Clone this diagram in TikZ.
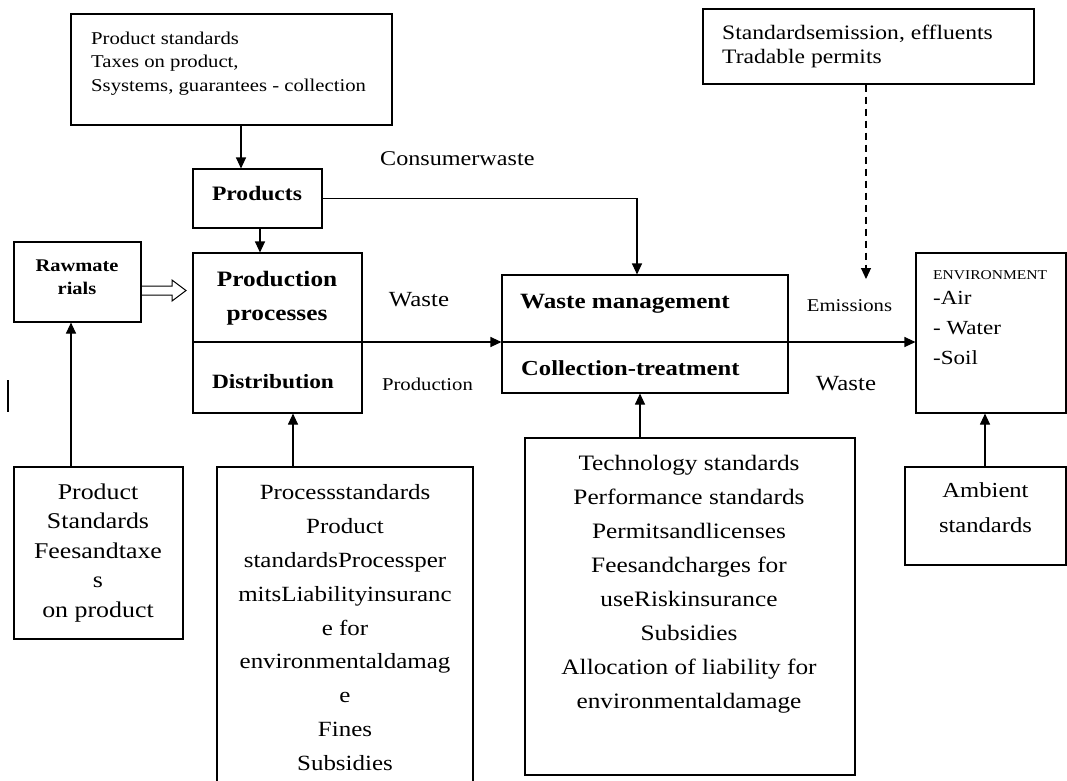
\documentclass[tikz,border=0pt]{standalone}
\usepackage{fontspec}
\setmainfont{Liberation Serif}[FakeStretch=1.15]
\usetikzlibrary{arrows.meta}
\begin{document}
\begin{tikzpicture}[x=1pt,y=-1pt,
  box/.style={draw=black, line width=1.1pt, inner sep=0pt},
  txt/.style={inner sep=0pt, align=center, text=black},
  arr/.style={line width=1.1pt, -{Triangle[length=11pt,width=10pt]}},
  conn/.style={line width=1.1pt},
]
\useasboundingbox (0,0) rectangle (1067,780);

% boxes
\node[box, minimum width=321pt, minimum height=111pt] (ptop) at (231.5,69.5) {};
\node[txt, anchor=north west, align=left, font=\fontsize{18}{23.5}\selectfont] (ptopt) at (91,31.6) {Product standards\\Taxes on product,\\Ssystems, guarantees - collection};

\node[box, minimum width=129pt, minimum height=59pt] (products) at (257.5,198.5) {};
\node[txt, anchor=base, font=\bfseries\fontsize{20.5}{24}\selectfont] (productst) at (257,200) {Products};

\node[box, minimum width=169pt, minimum height=160pt] (prod) at (277.5,333) {};
\node[txt, anchor=north, font=\bfseries\fontsize{22}{34}\selectfont] (prodt) at (277,271) {Production\\processes};
\node[txt, anchor=base, font=\bfseries\fontsize{20.3}{24}\selectfont] (distt) at (273,388) {Distribution};
\draw[conn] (prod.west |- 0,342) -- (prod.east |- 0,342);

\node[box, minimum width=127pt, minimum height=80pt] (raw) at (77.5,282) {};
\node[txt, anchor=north, font=\bfseries\fontsize{17.8}{23}\selectfont] (rawt) at (77,260) {Rawmate\\rials};

\node[box, minimum width=286pt, minimum height=118pt] (wm) at (645,334) {};
\node[txt, anchor=base west, font=\bfseries\fontsize{21.8}{26}\selectfont] (wmt1) at (520,308) {Waste management};
\node[txt, anchor=base west, font=\bfseries\fontsize{21.4}{26}\selectfont] (wmt2) at (521,375) {Collection-treatment};
\draw[conn] (wm.west |- 0,342) -- (wm.east |- 0,342);

\node[box, minimum width=331pt, minimum height=75pt] (stdtop) at (868.5,46.5) {};
\node[txt, anchor=north west, align=left, font=\fontsize{20.5}{24}\selectfont] (stdtopt) at (722,25) {Standardsemission, effluents\\Tradable permits};

\node[box, minimum width=150pt, minimum height=160pt] (env) at (991,333) {};
\node[txt, anchor=base west, font=\fontsize{13.5}{16}\selectfont] (envt) at (933,279) {ENVIRONMENT};
\node[txt, anchor=north west, align=left, font=\fontsize{20}{30}\selectfont] (envl) at (933,291.3) {-Air\\- Water\\-Soil};

\node[box, minimum width=161pt, minimum height=98pt] (amb) at (985.5,516) {};
\node[txt, anchor=north, font=\fontsize{21.4}{35}\selectfont] (ambt) at (985.5,482.4) {Ambient\\standards};

\node[box, minimum width=169pt, minimum height=172pt] (lb) at (98.5,553) {};
\node[txt, anchor=north, font=\fontsize{22.5}{29.5}\selectfont] (lbt) at (98,483.6) {Product\\Standards\\Feesandtaxe\\s\\on product};

\node[box, minimum width=256pt, minimum height=330pt] (mb) at (345,632) {};
\node[txt, anchor=north, font=\fontsize{21.7}{33.9}\selectfont] (mbt) at (345,484.2) {Processstandards\\Product\\standardsProcessper\\mitsLiabilityinsuranc\\e for\\environmentaldamag\\e\\Fines\\Subsidies};

\node[box, minimum width=330pt, minimum height=337pt] (rb) at (690,606.5) {};
\node[txt, anchor=north, font=\fontsize{22}{34}\selectfont] (rbt) at (689,455) {Technology standards\\Performance standards\\Permitsandlicenses\\Feesandcharges for\\useRiskinsurance\\Subsidies\\Allocation of liability for\\environmentaldamage};

% labels
\node[txt, anchor=base west, font=\fontsize{21}{24}\selectfont] (cw) at (380,165) {Consumerwaste};
\node[txt, anchor=base, font=\fontsize{21.6}{24}\selectfont] (wl) at (419,306) {Waste};
\node[txt, anchor=base, font=\fontsize{18}{24}\selectfont] (pl) at (427.5,390) {Production};
\node[txt, anchor=base, font=\fontsize{18}{24}\selectfont] (el) at (849.5,311) {Emissions};
\node[txt, anchor=base, font=\fontsize{21.6}{24}\selectfont] (wl2) at (846,390) {Waste};

% connectors
\draw[arr] (241,0 |- ptop.south) -- (241,0 |- products.north);
\draw[arr] (260,0 |- products.south) -- (260,0 |- prod.north);
\draw[arr] (products.east) -- (637,0 |- products.east) -- (637,0 |- wm.north);
\draw[arr] (prod.east |- 0,342) -- (wm.west |- 0,342);
\draw[arr] (wm.east |- 0,342) -- (env.west |- 0,342);
\coordinate (emtip) at (866,279);
\draw[arr, dash pattern=on 7pt off 5pt] (866,0 |- stdtop.south) -- (emtip);
\draw[arr] (71,0 |- lb.north) -- (71,0 |- raw.south);
\draw[arr] (293,0 |- mb.north) -- (293,0 |- prod.south);
\draw[arr] (640,0 |- rb.north) -- (640,0 |- wm.south);
\draw[arr] (985,0 |- amb.north) -- (985,0 |- env.south);
\draw[line width=1pt, line join=miter] (raw.east |- 0,286) -- (172,286) -- (172,280) -- (186,290.5) -- (172,301) -- (172,295) -- (raw.east |- 0,295);
\draw[line width=2pt] (8,380) -- (8,412);
\end{tikzpicture}
\end{document}
